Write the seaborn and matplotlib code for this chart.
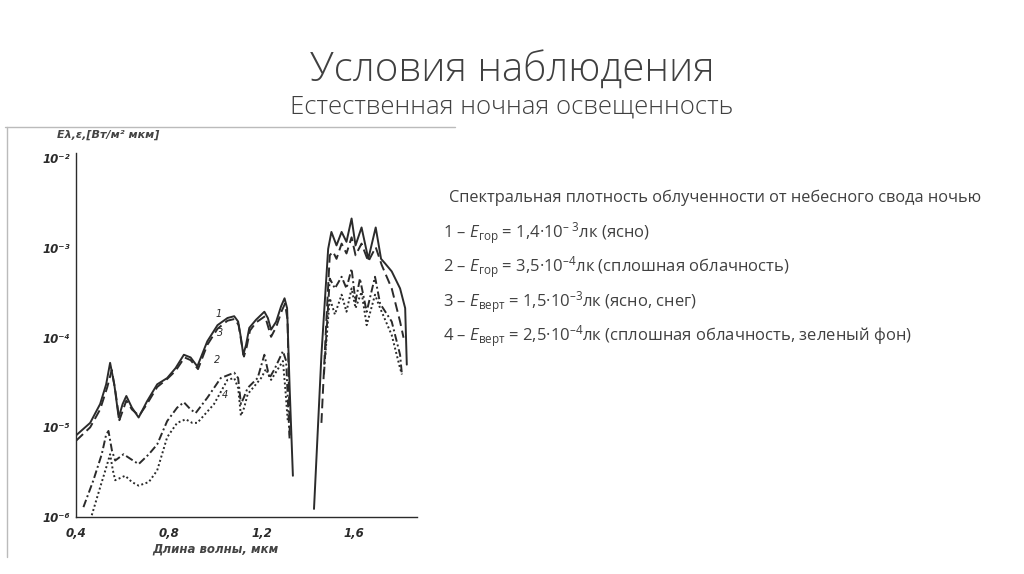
import numpy as np
import pandas as pd
import matplotlib
matplotlib.use("Agg")
import matplotlib.pyplot as plt
import seaborn as sns
from matplotlib.ticker import FixedLocator, NullFormatter, FixedFormatter

# === Data: wavelength (um) and log10 of E (W/m2 um) ===
c1_left_x = [0.400, 0.461, 0.504, 0.530, 0.547, 0.565, 0.584, 0.601, 0.617, 0.641, 0.670, 0.706, 0.750, 0.793,
             0.829, 0.865, 0.894, 0.923, 0.966, 1.010, 1.053, 1.082, 1.099, 1.111, 1.121, 1.133, 1.147, 1.176,
             1.212, 1.227, 1.241, 1.263, 1.284, 1.299, 1.310, 1.321, 1.335]
c1_left_lg = [-5.09, -4.95, -4.74, -4.52, -4.28, -4.52, -4.89, -4.74, -4.65, -4.78, -4.89, -4.71, -4.52, -4.45,
              -4.34, -4.19, -4.22, -4.32, -4.04, -3.86, -3.78, -3.76, -3.82, -4.00, -4.19, -4.08, -3.89, -3.80,
              -3.71, -3.78, -3.91, -3.82, -3.65, -3.56, -3.67, -4.56, -5.54]
c1_right_x = [1.426, 1.458, 1.487, 1.501, 1.523, 1.545, 1.566, 1.588, 1.605, 1.631, 1.660, 1.692, 1.715, 1.732,
              1.761, 1.797, 1.819, 1.826]
c1_right_lg = [-5.91, -4.19, -3.01, -2.82, -2.97, -2.82, -2.93, -2.67, -2.97, -2.77, -3.12, -2.77, -3.12, -3.17,
               -3.26, -3.45, -3.67, -4.30]

c3_left_x = [0.400, 0.461, 0.504, 0.535, 0.554, 0.570, 0.587, 0.617, 0.641, 0.672, 0.706, 0.750, 0.793, 0.829,
             0.868, 0.894, 0.926, 0.966, 1.010, 1.053, 1.085, 1.101, 1.113, 1.124, 1.136, 1.150, 1.176, 1.215,
             1.241, 1.263, 1.287, 1.301, 1.312, 1.318, 1.322]
c3_left_lg = [-5.15, -5.00, -4.80, -4.55, -4.36, -4.60, -4.92, -4.70, -4.80, -4.87, -4.74, -4.55, -4.46, -4.37,
              -4.22, -4.25, -4.35, -4.08, -3.90, -3.81, -3.79, -3.86, -4.05, -4.21, -4.10, -3.92, -3.83, -3.76,
              -3.99, -3.88, -3.70, -3.62, -3.80, -4.60, -5.13]
c3_right_x = [1.458, 1.479, 1.494, 1.508, 1.523, 1.545, 1.566, 1.588, 1.605, 1.631, 1.660, 1.692, 1.718, 1.761,
              1.797, 1.812]
c3_right_lg = [-4.95, -3.82, -3.08, -3.04, -3.12, -2.95, -3.06, -2.88, -3.08, -2.95, -3.15, -2.99, -3.19, -3.45,
               -3.82, -4.00]

c2_left_x = [0.432, 0.475, 0.511, 0.530, 0.540, 0.555, 0.569, 0.605, 0.634, 0.670, 0.714, 0.750, 0.793, 0.836,
             0.865, 0.894, 0.916, 0.966, 1.024, 1.082, 1.099, 1.111, 1.123, 1.140, 1.183, 1.212, 1.234, 1.256,
             1.292, 1.306, 1.321]
c2_left_lg = [-5.89, -5.59, -5.30, -5.08, -5.04, -5.26, -5.37, -5.30, -5.35, -5.41, -5.30, -5.19, -4.93, -4.78,
              -4.72, -4.80, -4.84, -4.67, -4.45, -4.39, -4.45, -4.74, -4.67, -4.56, -4.45, -4.19, -4.45, -4.35,
              -4.15, -4.26, -5.15]
c2_right_x = [1.469, 1.494, 1.516, 1.545, 1.566, 1.588, 1.605, 1.624, 1.653, 1.689, 1.711, 1.761, 1.797, 1.805]
c2_right_lg = [-4.41, -3.34, -3.45, -3.32, -3.45, -3.23, -3.60, -3.34, -3.71, -3.32, -3.62, -3.82, -4.19, -4.41]

c4_left_x = [0.468, 0.504, 0.530, 0.547, 0.559, 0.569, 0.612, 0.641, 0.670, 0.714, 0.750, 0.793, 0.836, 0.873,
             0.901, 0.923, 0.995, 1.053, 1.082, 1.099, 1.111, 1.125, 1.140, 1.198, 1.219, 1.241, 1.292, 1.302,
             1.313]
c4_left_lg = [-5.98, -5.67, -5.45, -5.30, -5.48, -5.59, -5.54, -5.61, -5.65, -5.61, -5.48, -5.11, -4.95, -4.91,
              -4.95, -4.95, -4.74, -4.47, -4.45, -4.56, -4.87, -4.78, -4.63, -4.45, -4.35, -4.47, -4.26, -4.56,
              -4.93]
c4_right_x = [1.475, 1.487, 1.494, 1.516, 1.545, 1.566, 1.588, 1.605, 1.631, 1.653, 1.689, 1.711, 1.761, 1.797,
              1.805]
c4_right_lg = [-4.19, -3.78, -3.56, -3.74, -3.52, -3.71, -3.45, -3.67, -3.49, -3.86, -3.52, -3.67, -3.97, -4.34,
               -4.41]

curve_names = ["1", "3", "2", "4"]
label_pos_x = [1.017, 1.022, 1.010, 1.040]
label_pos_lg = [-3.74, -3.95, -4.25, -4.64]

x_ticks = [0.4, 0.6, 0.8, 1.0, 1.2, 1.4, 1.6, 1.8]
x_tick_labels = ["0,4", "", "0,8", "", "1,2", "", "1,6", ""]
y_ticks = [1e-6, 1e-5, 1e-4, 1e-3, 1e-2]
y_tick_labels = ["10⁻⁶", "10⁻⁵", "10⁻⁴", "10⁻³", "10⁻²"]

title = "Условия наблюдения"
subtitle = "Естественная ночная освещенность"
legend_head = "Спектральная плотность облученности от небесного свода ночью"
legend_lines = [
    r"1 – $E_{\mathrm{гор}}$ = 1,4·10$^{–\ 3}$лк (ясно)",
    r"2 – $E_{\mathrm{гор}}$ = 3,5·10$^{–4}$лк (сплошная облачность)",
    r"3 – $E_{\mathrm{верт}}$ = 1,5·10$^{–3}$лк (ясно, снег)",
    r"4 – $E_{\mathrm{верт}}$ = 2,5·10$^{–4}$лк (сплошная облачность, зеленый фон)",
]

# === Long table ===
rows = []
for name, part, xs, lg in [
    ("1", "a", c1_left_x, c1_left_lg), ("1", "b", c1_right_x, c1_right_lg),
    ("3", "a", c3_left_x, c3_left_lg), ("3", "b", c3_right_x, c3_right_lg),
    ("2", "a", c2_left_x, c2_left_lg), ("2", "b", c2_right_x, c2_right_lg),
    ("4", "a", c4_left_x, c4_left_lg), ("4", "b", c4_right_x, c4_right_lg),
]:
    for xv, lv in zip(xs, lg):
        rows.append({"wl": xv, "E": 10.0 ** lv, "curve": name, "part": part})
df = pd.DataFrame(rows)

sns.set_style("white")
plt.rcParams["font.family"] = ["Open Sans", "DejaVu Sans"]
plt.rcParams["mathtext.fontset"] = "custom"
plt.rcParams["mathtext.rm"] = "Open Sans"
plt.rcParams["mathtext.it"] = "Open Sans:italic"

fig = plt.figure(figsize=(10.24, 5.74), dpi=100)
fig.patch.set_facecolor("white")
ax = fig.add_axes([76 / 1024, 1 - 517 / 574, (417 - 76) / 1024, (517 - 153) / 574])

ink = "#2b2b2b"
sns.lineplot(data=df, x="wl", y="E", hue="curve", style="curve", units="part", estimator=None, sort=False,
             palette={"1": ink, "3": ink, "2": ink, "4": ink},
             dashes={"1": "", "3": (5, 2.5), "2": (4, 1.5, 1, 1.5), "4": (1, 1.3)},
             linewidth=1.4, legend=False, ax=ax)
ax.set_yscale("log")
ax.set_xlim(0.4, 1.87)
ax.set_ylim(1e-6, 1.15e-2)

for s in ["top", "right"]:
    ax.spines[s].set_visible(False)
for s in ["left", "bottom"]:
    ax.spines[s].set_color(ink)
    ax.spines[s].set_linewidth(1.0)

ax.xaxis.set_major_locator(FixedLocator(x_ticks))
ax.xaxis.set_major_formatter(FixedFormatter(x_tick_labels))
ax.tick_params(axis="x", direction="in", length=4, width=0.8, color=ink, pad=7)
ax.yaxis.set_major_locator(FixedLocator(y_ticks))
ax.yaxis.set_major_formatter(FixedFormatter(y_tick_labels))
minor = [m * 10.0 ** e for e in range(-6, -2) for m in (2, 5)]
ax.yaxis.set_minor_locator(FixedLocator(minor))
ax.yaxis.set_minor_formatter(NullFormatter())
ax.tick_params(axis="y", which="both", direction="in", length=4, width=0.8, color=ink, pad=4)
tick_fp = matplotlib.font_manager.FontProperties(family="DejaVu Sans", style="italic", weight="bold", size=8.5)
for lab in ax.get_xticklabels() + ax.get_yticklabels():
    lab.set_fontproperties(tick_fp)
    lab.set_color(ink)
ax.set_xlabel("")
ax.set_ylabel("")

for name, lx, ly in zip(curve_names, label_pos_x, label_pos_lg):
    ax.text(lx, 10.0 ** ly, name, fontsize=7, style="italic", color=ink, family="DejaVu Sans",
            ha="center", va="center")

fig.text(215 / 1024, 1 - 549 / 574, "Длина волны, мкм", fontsize=8.5, style="italic", weight="bold",
         family="DejaVu Sans", color="#444444", ha="center", va="center")
fig.text(57 / 1024, 1 - 135 / 574, "Eλ,ε,[Вт/м² мкм]", fontsize=8, style="italic",
         weight="bold", family="DejaVu Sans", color="#444444", ha="left", va="center")

# scan frame
fig.add_artist(plt.Line2D([5 / 1024, 455 / 1024], [1 - 127 / 574, 1 - 127 / 574], color="#bbbbbb", lw=1))
fig.add_artist(plt.Line2D([7 / 1024, 7 / 1024], [1 - 127 / 574, 1 - 557 / 574], color="#bbbbbb", lw=1))

# slide texts
fig.text(0.5, 1 - 70 / 574, title, fontsize=29, color="#404040", ha="center", va="center", weight="light")
fig.text(0.5, 1 - 107 / 574, subtitle, fontsize=18.5, color="#404040", ha="center", va="center", weight="light")
fig.text(449 / 1024, 1 - 198 / 574, legend_head, fontsize=11.8, color="#404040", ha="left", va="center")
for i, line in enumerate(legend_lines):
    fig.text(443 / 1024, 1 - (233 + 34.5 * i) / 574, line, fontsize=12, color="#404040", ha="left",
             va="center")

fig.savefig("out.png", dpi=100, facecolor="white")
